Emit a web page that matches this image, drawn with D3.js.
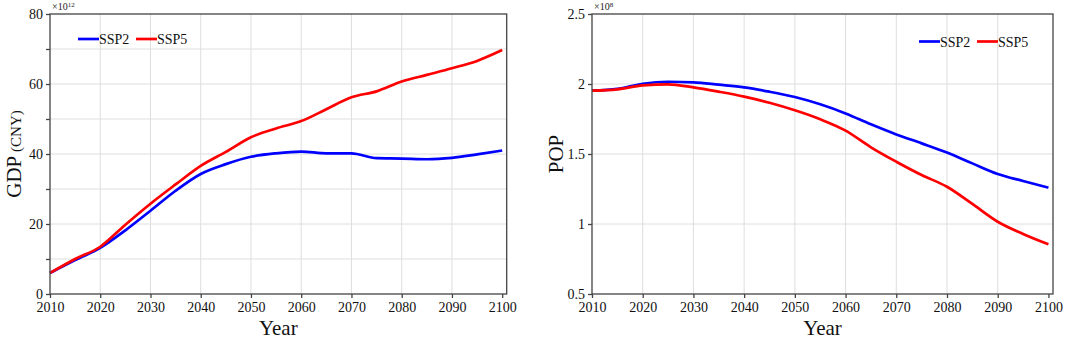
<!DOCTYPE html>
<html><head><meta charset="utf-8">
<script src="https://cdn.jsdelivr.net/npm/d3@7"></script>
<style>body{margin:0;background:#fff}svg{display:block}</style>
</head><body>
<svg id="c" width="1065" height="339"></svg>
<script>
const years = [2010,2015,2020,2025,2030,2035,2040,2045,2050,2055,2060,2065,2070,2075,2080,2085,2090,2095,2100];
const gdpSSP2 = [6,9.7,13.2,18.2,23.8,29.5,34.3,37.1,39.2,40.2,40.7,40.2,40.2,38.8,38.7,38.5,38.9,39.9,41.0];
const gdpSSP5 = [6,10,13.5,19.8,25.8,31.3,36.6,40.6,44.8,47.3,49.4,52.8,56.2,57.9,60.7,62.6,64.5,66.6,69.7];
const popSSP2 = [1.952,1.965,2.002,2.016,2.012,1.995,1.976,1.945,1.907,1.855,1.79,1.712,1.64,1.576,1.51,1.433,1.357,1.307,1.26];
const popSSP5 = [1.952,1.962,1.99,1.998,1.976,1.945,1.91,1.866,1.812,1.748,1.667,1.548,1.445,1.35,1.266,1.143,1.016,0.929,0.855];
const xTicks = [2010,2020,2030,2040,2050,2060,2070,2080,2090,2100];
const gdpTicks = [0,20,40,60,80];
const gdpGrid = [10,20,30,40,50,60,70];
const popTicks = [0.5,1,1.5,2,2.5];
const popGrid = [1,1.5,2];
const seriesNames = ["SSP2","SSP5"];
const colors = ["#0000ff","#ff0000"];

const svg = d3.select("#c");
const FONT = "'Liberation Serif','Times New Roman',serif";

function panel(o){
  const g = svg.append("g");
  const x = d3.scaleLinear().domain([2010,2100.9]).range([o.left,o.right]);
  const y = d3.scaleLinear().domain(o.ydom).range([o.bottom,o.top]);
  g.selectAll(".gx").data(xTicks.slice(1,-1)).join("line")
    .attr("x1",d=>x(d)).attr("x2",d=>x(d)).attr("y1",o.top).attr("y2",o.bottom)
    .attr("stroke","#dedede").attr("stroke-width",1);
  g.selectAll(".gy").data(o.grid).join("line")
    .attr("y1",d=>y(d)).attr("y2",d=>y(d)).attr("x1",o.left).attr("x2",o.right)
    .attr("stroke","#dedede").attr("stroke-width",1);
  const line = d3.line().x((d,i)=>x(years[i])).y(d=>y(d)).curve(d3.curveMonotoneX);
  o.series.forEach((s,i)=>{
    g.append("path").attr("d",line(s)).attr("fill","none")
      .attr("stroke",colors[i]).attr("stroke-width",2.7);
  });
  g.append("rect").attr("x",o.left).attr("y",o.top).attr("width",o.right-o.left).attr("height",o.bottom-o.top)
    .attr("fill","none").attr("stroke","#444").attr("stroke-width",1.3);
  const xa = d3.axisBottom(x).tickValues(xTicks).tickFormat(d3.format("d")).tickSize(4).tickPadding(4);
  const gx = g.append("g").attr("transform",`translate(0,${o.bottom})`).call(xa);
  const ya = d3.axisLeft(y).tickValues(o.ticks).tickFormat(o.fmt).tickSize(4).tickPadding(3);
  const gy = g.append("g").attr("transform",`translate(${o.left},0)`).call(ya);
  if(o.minor){
    g.append("g").attr("transform",`translate(${o.left},0)`)
      .call(d3.axisLeft(y).tickValues(o.minor).tickFormat("").tickSize(4))
      .call(a=>a.select(".domain").remove())
      .selectAll("line").attr("stroke","#444").attr("stroke-width",1.3);
  }
  [gx,gy].forEach(a=>{
    a.select(".domain").remove();
    a.selectAll("line").attr("stroke","#444").attr("stroke-width",1.3);
    a.selectAll("text").attr("font-family",FONT).attr("font-size",14).attr("fill","#111");
  });
  const ex = g.append("text").attr("x",o.left+2).attr("y",o.top-4).attr("font-family",FONT).attr("font-size",10).attr("fill","#222");
  ex.append("tspan").text("×10");
  ex.append("tspan").attr("dy",-3).attr("font-size",7).text(o.exp);
  g.append("text").attr("x",(o.left+o.right)/2).attr("y",335).attr("text-anchor","middle")
    .attr("font-family",FONT).attr("font-size",21).attr("fill","#111").text("Year");
  const yt = g.append("text").attr("transform",`translate(${o.ytx},${(o.top+o.bottom)/2}) rotate(-90)`)
    .attr("text-anchor","middle").attr("font-family",FONT).attr("font-size",21).attr("fill","#111");
  yt.append("tspan").text(o.ytitle);
  if(o.ysub) yt.append("tspan").attr("font-size",15).text(" " + o.ysub);
  seriesNames.forEach((n,i)=>{
    const lx = o.legX + i*58;
    g.append("line").attr("x1",lx).attr("x2",lx+21).attr("y1",o.legY).attr("y2",o.legY)
      .attr("stroke",colors[i]).attr("stroke-width",2.7);
    g.append("text").attr("x",lx+21).attr("y",o.legY+5).attr("font-family",FONT).attr("font-size",14)
      .attr("fill","#111").text(n);
  });
}

panel({left:50,right:506.7,top:14,bottom:294,ydom:[0,80],ticks:gdpTicks,minor:[10,30,50,70],grid:gdpGrid,
  fmt:d3.format("d"),series:[gdpSSP2,gdpSSP5],exp:"12",ytitle:"GDP",ysub:"(CNY)",ytx:21,legX:78,legY:39});
panel({left:592,right:1053,top:14,bottom:294,ydom:[0.5,2.5],ticks:popTicks,minor:null,grid:popGrid,
  fmt:d=>String(d),series:[popSSP2,popSSP5],exp:"8",ytitle:"POP",ysub:null,ytx:563,legX:919,legY:41.5});
</script>
</body></html>
